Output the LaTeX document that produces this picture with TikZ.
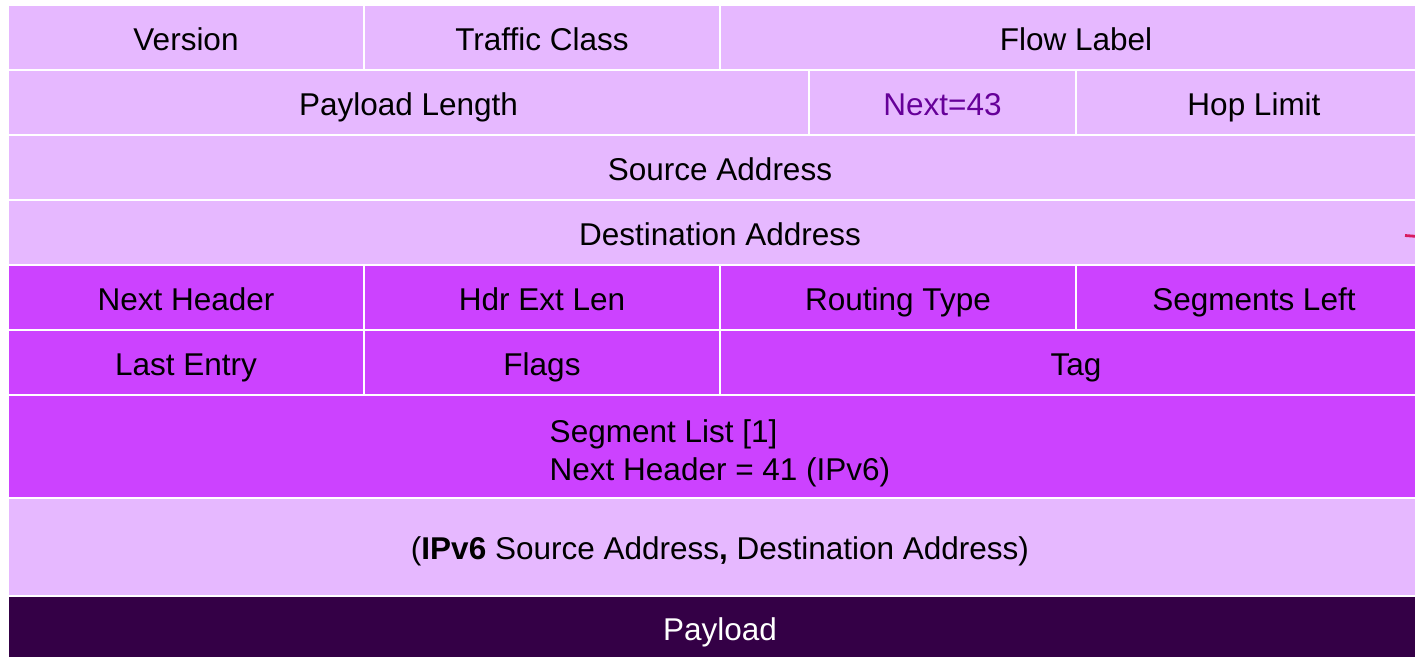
\documentclass[tikz,border=0pt]{standalone}
\usepackage{fontspec}
\setmainfont{Liberation Sans}
\definecolor{lightp}{HTML}{E6B8FF}
\definecolor{midp}{HTML}{CC42FF}
\definecolor{darkp}{HTML}{340046}
\definecolor{nextc}{HTML}{660099}
\definecolor{markred}{HTML}{D81B60}
\begin{document}
\begin{tikzpicture}[x=1pt,y=-1pt,
  cell/.style={draw=white, line width=2pt, inner sep=0pt, outer sep=0pt, anchor=north west,
    font=\fontsize{31.5}{38}\selectfont, text=black},
  one/.style={text height=25.6pt, text depth=0pt},
  lt/.style={cell, fill=lightp},
  md/.style={cell, fill=midp},
  dk/.style={cell, fill=darkp, text=white}]
\useasboundingbox (0,0) rectangle (1415,656);
\clip (0,0) rectangle (1415,656);
% row 1
\node[lt, one, minimum width=356pt, minimum height=65pt] (ver) at (8,5) {Version};
\node[lt, one, minimum width=356pt, minimum height=65pt] (tc) at (364,5) {Traffic Class};
\node[lt, one, minimum width=712pt, minimum height=65pt] (fl) at (720,5) {Flow Label};
% row 2
\node[lt, one, minimum width=801pt, minimum height=65pt] (pl) at (8,70) {Payload Length};
\node[lt, one, minimum width=267pt, minimum height=65pt, text=nextc] (nx) at (809,70) {Next=43};
\node[lt, one, minimum width=356pt, minimum height=65pt] (hl) at (1076,70) {Hop Limit};
% row 3, 4
\node[lt, one, minimum width=1424pt, minimum height=65pt] (sa) at (8,135) {Source Address};
\node[lt, one, minimum width=1424pt, minimum height=65pt] (da) at (8,200) {Destination Address};
% row 5
\node[md, one, minimum width=356pt, minimum height=65pt] (nh) at (8,265) {Next Header};
\node[md, one, minimum width=356pt, minimum height=65pt] (hel) at (364,265) {Hdr Ext Len};
\node[md, one, minimum width=356pt, minimum height=65pt] (rt) at (720,265) {Routing Type};
\node[md, one, minimum width=356pt, minimum height=65pt] (sl) at (1076,265) {Segments Left};
% row 6
\node[md, one, minimum width=356pt, minimum height=65pt] (le) at (8,330) {Last Entry};
\node[md, one, minimum width=356pt, minimum height=65pt] (fg) at (364,330) {Flags};
\node[md, one, minimum width=712pt, minimum height=65pt] (tg) at (720,330) {Tag};
% row 7
\node[md, minimum width=1424pt, minimum height=103pt] (seg) at (8,395) {};
\node[font=\fontsize{31.5}{38}\selectfont, inner sep=0pt, align=left] (segt) at ([yshift=-7pt]seg.center) {Segment List [1]\\Next Header = 41 (IPv6)};
% row 8
\node[lt, one, minimum width=1424pt, minimum height=98pt] (inner) at (8,498) {(\textbf{IPv6} Source Address\textbf{,} Destination Address)};
% row 9
\node[dk, one, minimum width=1424pt, minimum height=64pt] (pay) at (8,596) {Payload};
% red mark (cut-off connector)
\coordinate (m1) at (1405,235.5);
\coordinate (m2) at (1418,236.5);
\draw[markred, line width=2.8pt] (m1) -- (m2);
\end{tikzpicture}
\end{document}
